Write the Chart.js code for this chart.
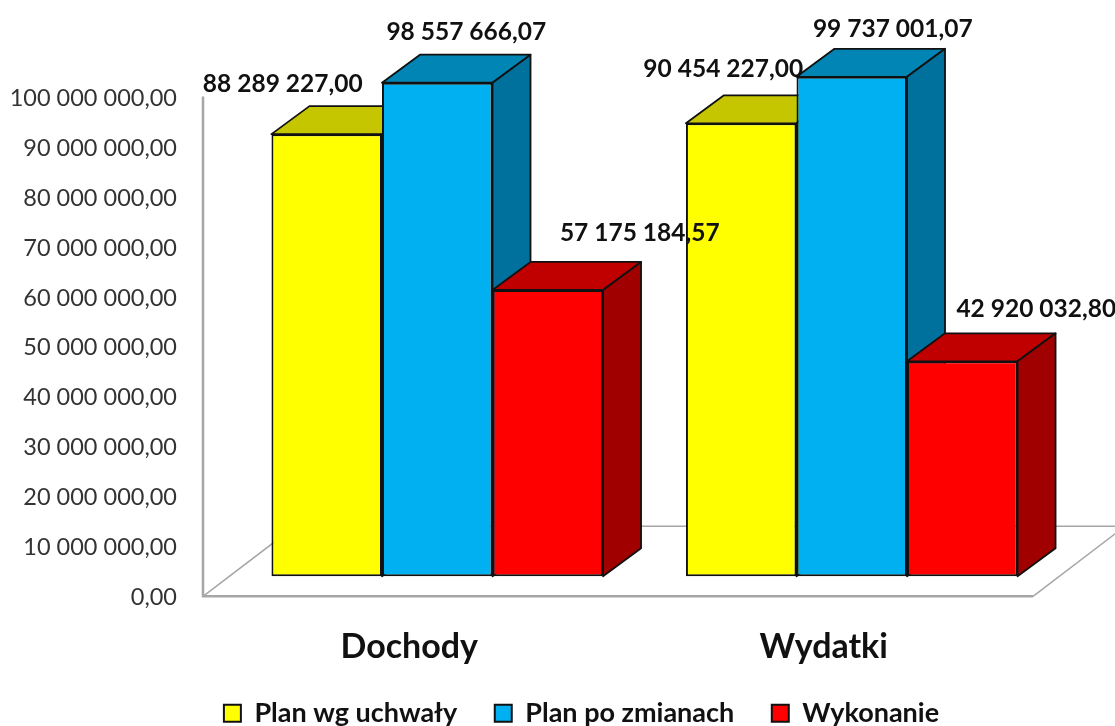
<!DOCTYPE html>
<html><head><meta charset="utf-8">
<style>html,body{margin:0;padding:0;background:#fff;overflow:hidden}canvas{display:block}</style>
<script src="https://cdn.jsdelivr.net/npm/chart.js@4"></script>
</head><body><canvas id="c" width="1115" height="726"></canvas>
<script>
const categories = ["Dochody", "Wydatki"];
const planUchwala = [88289227.00, 90454227.00];
const planZmiany = [98557666.07, 99737001.07];
const wykonanie = [57175184.57, 42920032.80];
const seriesNames = ["Plan wg uchwały", "Plan po zmianach", "Wykonanie"];
const tickValues = [0,10000000,20000000,30000000,40000000,50000000,60000000,70000000,80000000,90000000,100000000];
const tickLabels = ["0,00","10 000 000,00","20 000 000,00","30 000 000,00","40 000 000,00","50 000 000,00","60 000 000,00","70 000 000,00","80 000 000,00","90 000 000,00","100 000 000,00"];
const dataLabels = [["88 289 227,00","90 454 227,00"],["98 557 666,07","99 737 001,07"],["57 175 184,57","42 920 032,80"]];

const FONT = "Lato, 'Open Sans', sans-serif";
const faces = [
  {front:"#FFFF00", top:"#C6C600", side:"#A0A000"},
  {front:"#00B0F0", top:"#0085B5", side:"#00709C"},
  {front:"#FF0000", top:"#C00000", side:"#A00000"}
];
const depth = {dx:38, dy:-28};
const labelShift = [[[-44,-50],[-18,-54]],[[29,-51],[41,-48]],[[92,-57],[74,-52]]];

const bars3d = {
  id:"bars3d",
  afterLayout(chart){
    const l = chart.legend;
    l.left = 104;
    l.top -= 4; l.bottom -= 4;
  },
  beforeDatasetsDraw(chart){
    const c = chart.ctx, ya = chart.scales.yAxis, yb = chart.scales.y;
    const x0 = chart.chartArea.left - 27, y0 = chart.chartArea.bottom, yTop = ya.getPixelForValue(100000000) - 1.5;
    const fx = 1033, fdx = 92, fdy = -70;
    c.save();
    c.strokeStyle = "#A6A6A6";
    c.lineWidth = 1.5;
    c.beginPath();
    c.moveTo(x0, y0); c.lineTo(x0+fdx, y0+fdy); c.lineTo(1125, y0+fdy);
    c.moveTo(fx, y0); c.lineTo(fx+fdx, y0+fdy);
    c.stroke();
    c.lineWidth = 2.5;
    c.beginPath();
    c.moveTo(x0, yTop); c.lineTo(x0, y0); c.lineTo(fx, y0);
    c.stroke();
    c.lineJoin = "round";
    c.strokeStyle = "#111";
    c.lineWidth = 1.8;
    for (let i=0;i<categories.length;i++){
      chart.data.datasets.forEach((ds,di)=>{
        const b = chart.getDatasetMeta(di).data[i];
        const L = b.x-b.width/2, R = b.x+b.width/2, T = b.y, B = yb.getPixelForValue(0);
        c.fillStyle = faces[di].top;
        c.beginPath();
        c.moveTo(L,T); c.lineTo(L+depth.dx,T+depth.dy); c.lineTo(R+depth.dx,T+depth.dy); c.lineTo(R,T); c.closePath();
        c.fill(); c.stroke();
        c.fillStyle = faces[di].side;
        c.beginPath();
        c.moveTo(R,T); c.lineTo(R+depth.dx,T+depth.dy); c.lineTo(R+depth.dx,B+depth.dy); c.lineTo(R,B); c.closePath();
        c.fill(); c.stroke();
      });
    }
    c.restore();
  },
  afterDatasetsDraw(chart){
    const c = chart.ctx;
    c.save();
    c.font = "bold 24.5px "+FONT;
    c.fillStyle = "#111";
    c.textAlign = "center";
    c.textBaseline = "middle";
    chart.data.datasets.forEach((ds,di)=>{
      chart.getDatasetMeta(di).data.forEach((b,i)=>{
        c.fillText(dataLabels[di][i], b.x+labelShift[di][i][0], b.y+labelShift[di][i][1]);
      });
    });
    c.restore();
  }
};

new Chart(document.getElementById("c"),{
  type:"bar",
  data:{labels:categories,datasets:[
    {label:seriesNames[0],data:planUchwala,backgroundColor:faces[0].front,borderColor:"#111",borderWidth:2,borderSkipped:false,yAxisID:"y"},
    {label:seriesNames[1],data:planZmiany,backgroundColor:faces[1].front,borderColor:"#111",borderWidth:2,borderSkipped:false,yAxisID:"y"},
    {label:seriesNames[2],data:wykonanie,backgroundColor:faces[2].front,borderColor:"#111",borderWidth:2,borderSkipped:false,yAxisID:"y"}
  ]},
  options:{
    responsive:false,animation:false,devicePixelRatio:1,
    categoryPercentage:0.8,barPercentage:1,
    layout:{padding:{left:0,right:56,top:75.5,bottom:-14.8}},
    plugins:{
      tooltip:{enabled:false},
      title:{display:false},
      legend:{display:true,position:"bottom",
        labels:{boxWidth:17,boxHeight:17,padding:37.5,color:"#111",font:{family:FONT,size:27,weight:"bold"}}}
    },
    scales:{
      x:{grid:{display:false},border:{display:false},
        ticks:{padding:22,labelOffset:-28,color:"#111",font:{family:FONT,size:34,weight:"bold"},maxRotation:0},
        afterFit(s){s.height=70;}},
      y:{display:false,min:-4000000,max:100000000},
      yAxis:{position:"left",min:300000,max:104508000,grid:{display:false},border:{display:false},
        afterBuildTicks(s){s.ticks=tickValues.map(value=>({value}));},
        ticks:{autoSkip:false,padding:45,color:"#333",font:{family:FONT,size:23.5},
          callback(v,i){return tickLabels[i];}},
        afterFit(s){s.width=230;}}
    }
  },
  plugins:[bars3d]
});
</script></body></html>
